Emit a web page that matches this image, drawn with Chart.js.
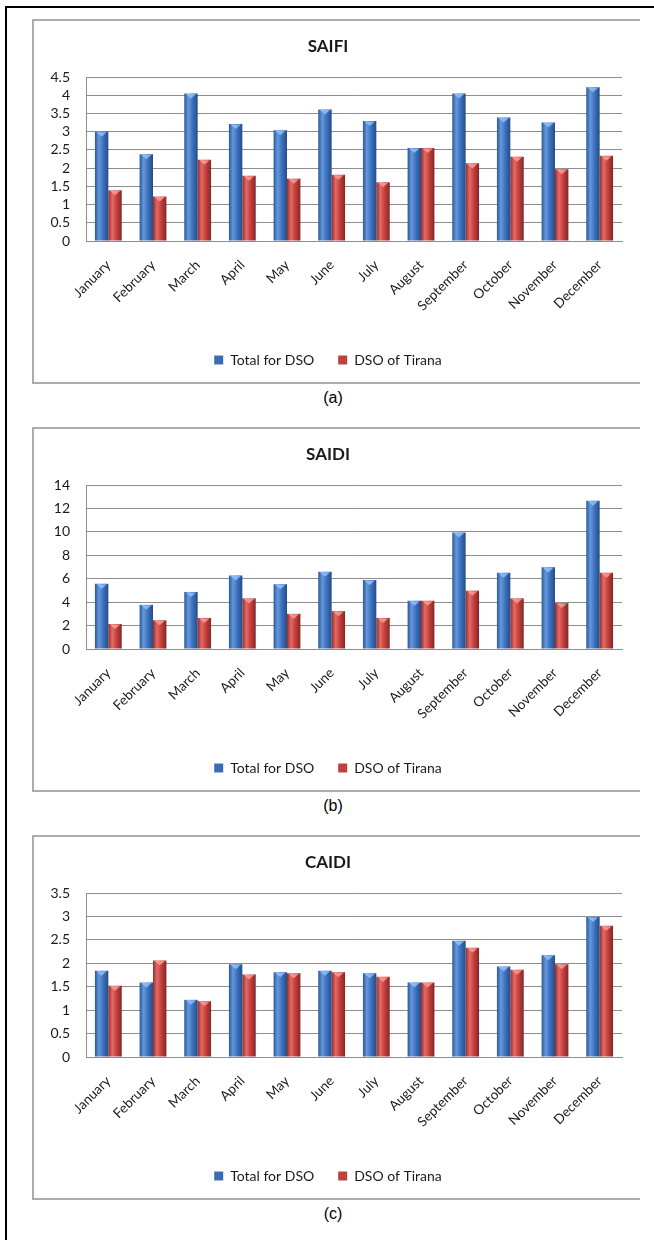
<!DOCTYPE html>
<html>
<head>
<meta charset="utf-8">
<script src="https://cdn.jsdelivr.net/npm/chart.js@4.4.1/dist/chart.umd.min.js"></script>
<style>
  body { margin: 0; background: #fff; }
  #page { position: relative; width: 654px; height: 1240px; overflow: hidden; background: #fff; }
  #frame { position: absolute; left: 5px; top: 6px; width: 700px; height: 1300px; border-left: 2px solid #000; border-top: 2px solid #000; }
  .box { position: absolute; left: 32px; width: 608px; height: 365px; box-sizing: border-box;
         border: 2px solid #acacac; border-right: none; }
  .box canvas { position: absolute; left: 0; top: 0; }
  .cap { position: absolute; left: 233px; width: 200px; text-align: center; line-height: 18px;
         font: 16px "Liberation Sans", Arial, sans-serif; color: #000; }
</style>
</head>
<body>
<div id="page">
  <div id="frame"></div>
  <div class="box" style="top:19px"><canvas id="saifi" width="606" height="361"></canvas></div>
  <div class="cap" style="top:389px">(a)</div>
  <div class="box" style="top:427px"><canvas id="saidi" width="606" height="361"></canvas></div>
  <div class="cap" style="top:797px">(b)</div>
  <div class="box" style="top:835px"><canvas id="caidi" width="606" height="361"></canvas></div>
  <div class="cap" style="top:1205px">(c)</div>
</div>
<script>
const months = ['January', 'February', 'March', 'April', 'May', 'June', 'July',
                'August', 'September', 'October', 'November', 'December'];
const seriesNames = ['Total for DSO', 'DSO of Tirana'];

// SAIFI
const saifiTotal  = [3.00, 2.38, 4.05, 3.21, 3.04, 3.61, 3.29, 2.55, 4.05, 3.39, 3.25, 4.22];
const saifiTirana = [1.39, 1.22, 2.23, 1.79, 1.71, 1.82, 1.61, 2.55, 2.13, 2.31, 1.97, 2.34];
const saifiAxis   = [0, 4.5, 0.5];   // min, max, step

// SAIDI
const saidiTotal  = [5.56, 3.77, 4.87, 6.28, 5.53, 6.60, 5.88, 4.12, 9.94, 6.51, 6.97, 12.65];
const saidiTirana = [2.13, 2.45, 2.65, 4.32, 3.00, 3.23, 2.65, 4.12, 4.98, 4.32, 3.92, 6.51];
const saidiAxis   = [0, 14, 2];

// CAIDI
const caidiTotal  = [1.84, 1.59, 1.22, 1.98, 1.81, 1.84, 1.79, 1.59, 2.48, 1.93, 2.17, 2.99];
const caidiTirana = [1.52, 2.06, 1.19, 1.76, 1.79, 1.81, 1.71, 1.59, 2.33, 1.86, 1.98, 2.80];
const caidiAxis   = [0, 3.5, 0.5];

const solid  = ['#3b6db6', '#c0403d'];
// left edge, highlight, body, right edge
const shades = [
  ['#2a5894', '#6499dd', '#3e73c0', '#264c86'],
  ['#962d2b', '#e46a66', '#c5413e', '#862725']
];
const bevel = ['rgba(150,195,255,0.8)', 'rgba(255,160,158,0.8)'];

const gridColor = '#8e8e8e';
const textColor = '#1a1a1a';

// cylinder-like shading across each bar plus the light wedge at its top
const barShading = {
  id: 'barShading',
  beforeDatasetDraw(chart, args) {
    const c = chart.ctx;
    const s = shades[args.index];
    args.meta.data.forEach(el => {
      const g = c.createLinearGradient(el.x - el.width / 2, 0, el.x + el.width / 2, 0);
      g.addColorStop(0, s[0]);
      g.addColorStop(0.3, s[1]);
      g.addColorStop(0.6, s[2]);
      g.addColorStop(1, s[3]);
      el.options = Object.assign({}, el.options, { backgroundColor: g });
    });
  },
  afterDatasetDraw(chart, args) {
    const c = chart.ctx;
    c.save();
    c.fillStyle = bevel[args.index];
    args.meta.data.forEach(el => {
      const w = el.width / 2;
      c.beginPath();
      c.moveTo(el.x - w + 1.5, el.y + 0.5);
      c.lineTo(el.x + w - 1.5, el.y + 0.5);
      c.lineTo(el.x, el.y + w * 0.75);
      c.closePath();
      c.fill();
    });
    c.restore();
  }
};

function makeChart(id, title, total, tirana, axis) {
  return new Chart(document.getElementById(id), {
    type: 'bar',
    data: {
      labels: months,
      datasets: [
        { label: seriesNames[0], data: total, backgroundColor: solid[0] },
        { label: seriesNames[1], data: tirana, backgroundColor: solid[1] }
      ]
    },
    options: {
      responsive: false,
      animation: false,
      layout: { padding: { left: 0, right: 18, top: 0, bottom: 5 } },
      datasets: { bar: { categoryPercentage: 0.6, barPercentage: 1 } },
      plugins: {
        title: {
          display: true, text: title, color: textColor,
          font: { family: 'Lato', size: 17, weight: 'bold' },
          padding: { top: 15, bottom: 20.6 }
        },
        legend: {
          position: 'bottom',
          labels: { boxWidth: 9, boxHeight: 9, padding: 24, color: textColor,
                    font: { family: 'Lato', size: 14 } }
        },
        tooltip: { enabled: false }
      },
      scales: {
        x: {
          grid: { display: false },
          border: { display: true, color: gridColor },
          ticks: { minRotation: 45, maxRotation: 45, padding: 8, color: textColor,
                   autoSkip: false, font: { family: 'Lato', size: 13.5 } },
          afterFit: s => { s.height = 88; }
        },
        y: {
          min: axis[0], max: axis[1],
          grid: { color: gridColor, drawTicks: false },
          border: { display: true, color: gridColor },
          ticks: { stepSize: axis[2], padding: 16, color: textColor, autoSkip: false,
                   font: { family: 'Lato', size: 14 },
                   callback: v => String(v) },
          afterFit: s => { s.width = 52; }
        }
      }
    },
    plugins: [barShading]
  });
}

makeChart('saifi', 'SAIFI', saifiTotal, saifiTirana, saifiAxis);
makeChart('saidi', 'SAIDI', saidiTotal, saidiTirana, saidiAxis);
makeChart('caidi', 'CAIDI', caidiTotal, caidiTirana, caidiAxis);
</script>
</body>
</html>
